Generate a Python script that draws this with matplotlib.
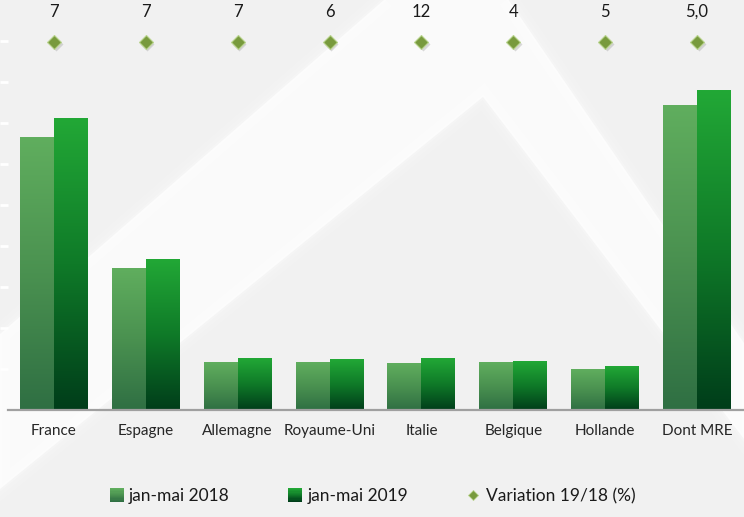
import numpy as np
import matplotlib.pyplot as plt
import matplotlib.transforms as mtransforms
from matplotlib.colors import LinearSegmentedColormap
from matplotlib.patches import Polygon, Rectangle
from matplotlib.legend_handler import HandlerBase
from matplotlib.lines import Line2D

# données (arrivées, milliers)
pays = ['France', 'Espagne', 'Allemagne', 'Royaume-Uni', 'Italie',
        'Belgique', 'Hollande', 'Dont MRE']
arrivees_2018 = [1330, 688, 234, 230, 225, 230, 200, 1483]
arrivees_2019 = [1423, 736, 250, 244, 252, 239, 210, 1557]
variation = [7, 7, 7, 6, 12, 4, 5, 5.0]
variation_txt = ['7', '7', '7', '6', '12', '4', '5', '5,0']
legende = ['jan-mai 2018', 'jan-mai 2019', 'Variation 19/18 (%)']

plt.rcParams['font.family'] = ['Lato', 'DejaVu Sans']

cmap18 = LinearSegmentedColormap.from_list('c18', ['#2f6f43', '#4a9150', '#60ae5e'])
cmap19 = LinearSegmentedColormap.from_list('c19', ['#003d1a', '#0f7a28', '#22a836'])

W, H = 744, 517
fig = plt.figure(figsize=(W / 100, H / 100), dpi=100)
fig.patch.set_facecolor('#f1f1f1')

# filigrane (bande blanche en chevron, bords adoucis)
pts = [(0, 334), (462, -68), (744, 343), (744, 439), (483, 97), (0, 489)]
for lw, a in [(14, 0.12), (8, 0.15), (3, 0.2)]:
    fig.patches.append(Polygon([(px / W, 1 - py / H) for px, py in pts], closed=True,
                               transform=fig.transFigure, facecolor='none',
                               edgecolor='white', lw=lw, alpha=a, zorder=-5))
fig.patches.append(Polygon([(px / W, 1 - py / H) for px, py in pts], closed=True,
                           transform=fig.transFigure, facecolor='white',
                           edgecolor='none', alpha=0.7, zorder=-5))

ax = fig.add_axes([8 / W, (H - 410) / H, 735 / W, 410 / H])
ax.set_facecolor('none')

x = np.arange(len(pays))
bw = 0.37
grad = np.linspace(0, 1, 256).reshape(-1, 1)
for i in range(len(pays)):
    ax.imshow(grad, extent=(x[i] - bw, x[i], 0, arrivees_2018[i]), origin='lower',
              cmap=cmap18, aspect='auto', zorder=2)
    ax.imshow(grad, extent=(x[i], x[i] + bw, 0, arrivees_2019[i]), origin='lower',
              cmap=cmap19, aspect='auto', zorder=2)

ax.set_xlim(-0.5, 7.5)
ax.set_ylim(0, 2000)
ax.set_aspect('auto')

for s in ['top', 'right', 'left']:
    ax.spines[s].set_visible(False)
ax.spines['bottom'].set_color('#a0a0a0')
ax.spines['bottom'].set_linewidth(1.6)
ax.spines['bottom'].set_zorder(3)

ax.set_xticks(x)
ax.set_xticklabels(pays, fontsize=11, color='#262626')
ax.tick_params(axis='x', length=0, pad=10)
ax.set_yticks(np.arange(200, 2000, 200))
ax.tick_params(axis='y', length=6, width=2, color='white', labelleft=False)

# variation : losanges en haut du graphique
trans = mtransforms.blended_transform_factory(ax.transData, ax.transAxes)
shadow = mtransforms.offset_copy(trans, fig=fig, x=1.2, y=-1.5, units='points')
ax.plot(x, np.full(len(x), 0.8976), ls='none', marker='D', ms=7.5,
        mfc='#999999', mec='none', alpha=0.35, transform=shadow, clip_on=False)
ax.plot(x, np.full(len(x), 0.8976), ls='none', marker='D', ms=7,
        mfc='#789a3d', mec='#b9d48e', mew=0.8, transform=trans, clip_on=False)
for i, t in enumerate(variation_txt):
    ax.text(x[i], 0.971, t, transform=trans, ha='center', va='center',
            fontsize=12, color='#1a1a1a')


class GradSwatch(Rectangle):
    def __init__(self, cmap):
        super().__init__((0, 0), 1, 1)
        self.cmap = cmap


class GradHandler(HandlerBase):
    def create_artists(self, legend, orig, xd, yd, w, h, fontsize, trans):
        s = min(w, h) * 1.15
        x0 = xd + w - s
        y0 = yd + (h - s) / 2
        n = 12
        arts = []
        for k in range(n):
            arts.append(Rectangle((x0, y0 + s * k / n), s, s / n * 1.05,
                                  facecolor=orig.cmap(k / (n - 1)), lw=0,
                                  transform=trans))
        return arts


h18 = GradSwatch(cmap18)
h19 = GradSwatch(cmap19)
hvar = Line2D([], [], ls='none', marker='D', ms=5, mfc='#789a3d', mec='#b9d48e', mew=0.6)
fig.legend([h18, h19, hvar], legende, loc='lower center', bbox_to_anchor=(0.5, -0.005),
           ncol=3, frameon=False, fontsize=12.5, handler_map={GradSwatch: GradHandler()},
           handlelength=0.9, handletextpad=0.3, columnspacing=3.3, labelcolor='#1a1a1a')

fig.savefig('out.png', dpi=100, facecolor=fig.get_facecolor())
